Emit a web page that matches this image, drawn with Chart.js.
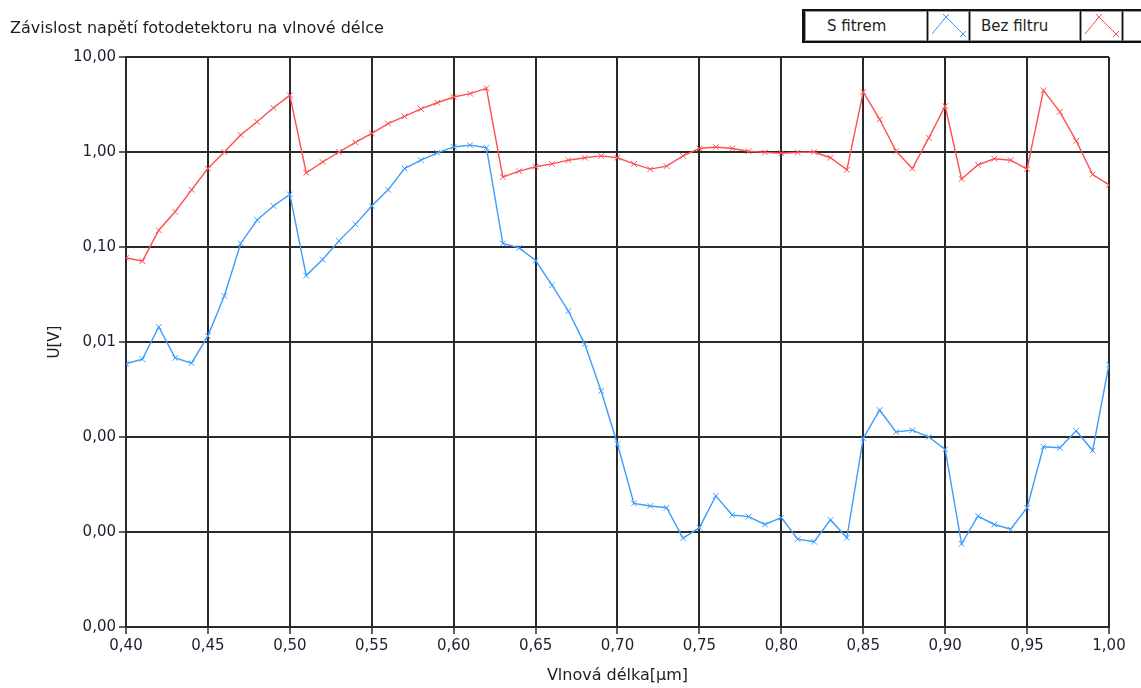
<!DOCTYPE html>
<html>
<head>
<meta charset="utf-8">
<script src="https://cdn.jsdelivr.net/npm/chart.js@4.4.1/dist/chart.umd.min.js"></script>
<style>
  body { margin: 0; background: #fff; font-family: "DejaVu Sans", sans-serif; }
  #wrap { position: relative; width: 1141px; height: 688px; overflow: hidden; }
  #title { position: absolute; left: 10px; top: 18px; font-size: 16px; color: #1e1e1e; white-space: nowrap; }
  #legend { position: absolute; left: 802px; top: 9px; width: 350px; height: 34px; background: #111; }
  .cell { position: absolute; top: 2px; height: 28px; background: #fff; border: 1px solid #999;
          font-size: 15px; line-height: 28px; color: #1e1e1e; white-space: nowrap; }
  .cell svg { position: absolute; left: 0; top: 0; }
</style>
</head>
<body>
<div id="wrap">
  <canvas id="chart" width="1141" height="688"></canvas>
  <div id="title">Závislost napětí fotodetektoru na vlnové délce</div>
  <div id="legend">
    <div class="cell" style="left:3px;width:120px;"><span style="padding-left:21px">S fitrem</span></div>
    <div class="cell" style="left:126px;width:39px;">
      <svg width="39" height="28"><g stroke="#3d9bff" stroke-width="1" fill="none">
        <polyline points="3,22 17,5 34,22"/>
        <path d="M14,2 L20,8 M20,2 L14,8 M31,19 L37,25 M37,19 L31,25"/></g></svg>
    </div>
    <div class="cell" style="left:168px;width:108px;"><span style="padding-left:10px">Bez filtru</span></div>
    <div class="cell" style="left:279px;width:39px;">
      <svg width="39" height="28"><g stroke="#ff4f4f" stroke-width="1" fill="none">
        <polyline points="3,22 17,5 34,22"/>
        <path d="M14,2 L20,8 M20,2 L14,8 M31,19 L37,25 M37,19 L31,25"/></g></svg>
    </div>
    <div class="cell" style="left:321px;width:40px;"></div>
  </div>
</div>
<script>
// Wavelengths in µm
const wavelengths = [0.40, 0.41, 0.42, 0.43, 0.44, 0.45, 0.46, 0.47, 0.48, 0.49,
  0.50, 0.51, 0.52, 0.53, 0.54, 0.55, 0.56, 0.57, 0.58, 0.59,
  0.60, 0.61, 0.62, 0.63, 0.64, 0.65, 0.66, 0.67, 0.68, 0.69,
  0.70, 0.71, 0.72, 0.73, 0.74, 0.75, 0.76, 0.77, 0.78, 0.79,
  0.80, 0.81, 0.82, 0.83, 0.84, 0.85, 0.86, 0.87, 0.88, 0.89,
  0.90, 0.91, 0.92, 0.93, 0.94, 0.95, 0.96, 0.97, 0.98, 0.99, 1.00];

// Voltage with filter [V]
const sFiltrem = [0.0059, 0.0066, 0.0144, 0.0068, 0.0060, 0.0116, 0.0305, 0.109, 0.192, 0.27,
  0.358, 0.050, 0.074, 0.116, 0.173, 0.27, 0.40, 0.67, 0.82, 0.98,
  1.13, 1.18, 1.11, 0.109, 0.098, 0.072, 0.0396, 0.0212, 0.0095, 0.00305,
  0.00084, 0.00020, 0.000188, 0.00018, 0.000086, 0.000111, 0.00024, 0.000151, 0.000145, 0.00012,
  0.000142, 0.000084, 0.000079, 0.000134, 0.000087, 0.00097, 0.00192, 0.00113, 0.00118, 0.00100,
  0.00074, 0.000075, 0.000147, 0.00012, 0.000107, 0.00018, 0.00079, 0.00077, 0.00116, 0.00072, 0.0058];

// Voltage without filter [V]
const bezFiltru = [0.077, 0.071, 0.15, 0.235, 0.40, 0.67, 1.0, 1.51, 2.08, 2.92,
  3.95, 0.605, 0.785, 1.0, 1.26, 1.57, 1.99, 2.37, 2.84, 3.3,
  3.79, 4.11, 4.68, 0.545, 0.63, 0.70, 0.75, 0.82, 0.87, 0.91,
  0.87, 0.75, 0.66, 0.71, 0.91, 1.09, 1.13, 1.09, 1.02, 0.99,
  0.97, 0.99, 1.0, 0.87, 0.65, 4.29, 2.21, 1.02, 0.67, 1.41,
  3.05, 0.52, 0.73, 0.85, 0.82, 0.66, 4.46, 2.65, 1.31, 0.58, 0.45];

const yTicks = [0.00001, 0.0001, 0.001, 0.01, 0.1, 1, 10];

const fmt = v => Number(v).toFixed(2).replace(".", ",");
const toPoints = arr => arr.map((v, i) => ({ x: wavelengths[i], y: v }));

const ctx = document.getElementById("chart").getContext("2d");
new Chart(ctx, {
  type: "line",
  data: {
    datasets: [{
      label: "S fitrem",
      data: toPoints(sFiltrem),
      borderColor: "#3d9bff",
      borderWidth: 1.4,
      pointStyle: "crossRot",
      pointRadius: 4,
      pointBorderWidth: 1,
      tension: 0
    }, {
      label: "Bez filtru",
      data: toPoints(bezFiltru),
      borderColor: "#ff4f4f",
      borderWidth: 1.4,
      pointStyle: "crossRot",
      pointRadius: 4,
      pointBorderWidth: 1,
      tension: 0
    }]
  },
  options: {
    responsive: false,
    animation: false,
    layout: { padding: { top: 57, right: 32, left: 46, bottom: 0 } },
    scales: {
      x: {
        type: "linear",
        min: 0.4,
        max: 1.0,
        afterFit: s => { s.height = 61; },
        ticks: {
          stepSize: 0.05,
          callback: v => fmt(v),
          color: "#221c30",
          font: { family: "DejaVu Sans", size: 15 },
          padding: 3,
          maxRotation: 0
        },
        grid: { color: "#2a2a2a", lineWidth: 2, tickLength: 7, tickWidth: 1.5 },
        border: { color: "#2a2a2a", width: 2 },
        title: {
          display: true,
          text: "Vlnová délka[µm]",
          color: "#1e1e1e",
          font: { family: "DejaVu Sans", size: 16 },
          padding: { top: 0, bottom: 3 }
        }
      },
      y: {
        type: "logarithmic",
        min: 0.00001,
        max: 10,
        afterFit: s => { s.width = 80; },
        afterBuildTicks: s => { s.ticks = yTicks.map(v => ({ value: v })); },
        ticks: {
          callback: v => fmt(v),
          color: "#221c30",
          font: { family: "DejaVu Sans", size: 15 },
          padding: 3
        },
        grid: { color: "#2a2a2a", lineWidth: 2, tickLength: 7, tickWidth: 1.5 },
        border: { color: "#2a2a2a", width: 2 },
        title: {
          display: true,
          text: "U[V]",
          color: "#1e1e1e",
          font: { family: "DejaVu Sans", size: 15 },
          padding: { top: 0, bottom: 0 }
        }
      }
    },
    plugins: {
      legend: { display: false },
      tooltip: { enabled: false }
    }
  }
});
</script>
</body>
</html>
